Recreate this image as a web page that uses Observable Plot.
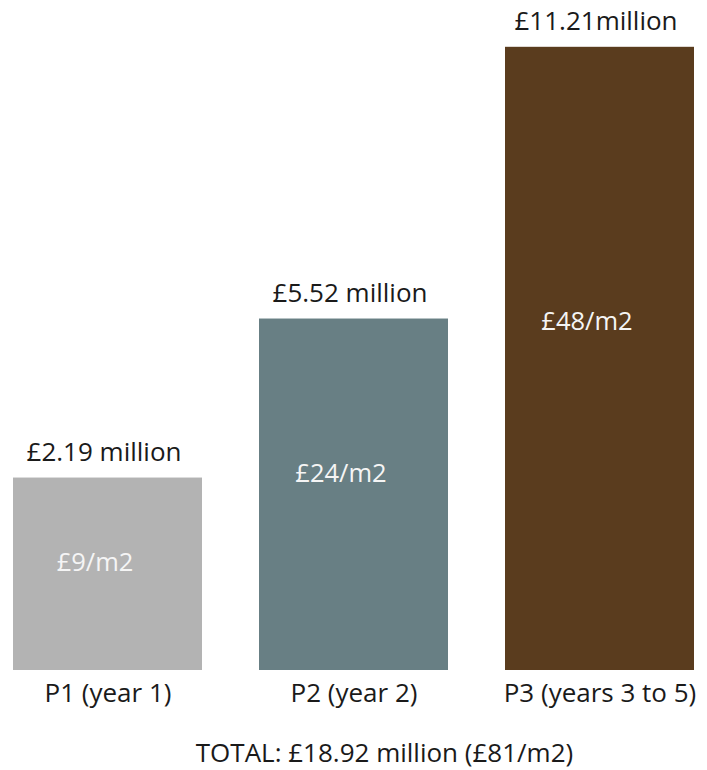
<!DOCTYPE html>
<html><head><meta charset="utf-8">
<script src="https://cdn.jsdelivr.net/npm/d3@7"></script>
<script src="https://cdn.jsdelivr.net/npm/@observablehq/plot@0.6"></script>
<style>body{margin:0;background:#fff;}</style>
</head><body><div id="chart"></div>
<script>
const periods = ["P1 (year 1)", "P2 (year 2)", "P3 (years 3 to 5)"];
const costMillions = [2.19, 5.52, 11.21];
const costLabels = ["£2.19 million", "£5.52 million", "£11.21million"];
const perM2Labels = ["£9/m2", "£24/m2", "£48/m2"];
const totalLabel = "TOTAL: £18.92 million (£81/m2)";
const barColors = ["#b3b3b3", "#687f84", "#5a3c1e"];

const data = periods.map((p, i) => ({period: p, value: costMillions[i], label: costLabels[i], inner: perM2Labels[i]}));
const base = -1.84;
const chart = Plot.plot({
  width: 707, height: 770,
  marginTop: 0, marginBottom: 100, marginLeft: 13, marginRight: 12,
  style: {fontFamily: "'Open Sans', sans-serif", background: "white", color: "#1a1a1a"},
  x: {domain: periods, paddingInner: 0.23, paddingOuter: 0, label: null},
  y: {domain: [base, 12.19], axis: null},
  color: {domain: periods, range: barColors},
  marks: [
    Plot.barY(data, {x: "period", y1: base, y2: "value", fill: "period"}),
    Plot.text(data, {x: "period", y: "value", text: "label", lineAnchor: "bottom", dy: -17, dx: -4, fontSize: 26, fill: "#1a1a1a"}),
    Plot.text(data, {x: "period", y: d => d.value - 0.44 * (d.value - base), text: "inner", fontSize: 25.5, fill: "#f5f5f5", dx: -13}),
    Plot.axisX({tickSize: 0, tickPadding: 13, fontSize: 26, fill: "#1a1a1a", label: null}),
    Plot.text([totalLabel], {frameAnchor: "bottom", text: d => d, lineAnchor: "bottom", dy: 91, dx: 30, fontSize: 26, fill: "#1a1a1a"})
  ]
});
document.getElementById("chart").appendChild(chart);
</script>
</body></html>
